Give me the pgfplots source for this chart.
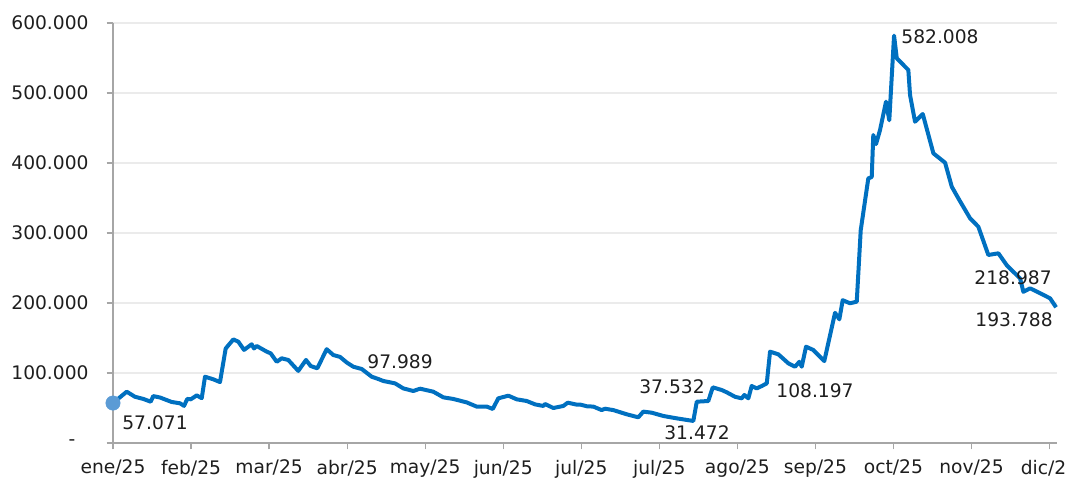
\documentclass[border=0pt]{standalone}
\usepackage{pgfplots}
\pgfplotsset{compat=1.18}
\usepackage{fontspec}
\setmainfont{DejaVu Sans}
\definecolor{lineblue}{RGB}{0,112,192}
\definecolor{dotblue}{RGB}{91,155,213}
\definecolor{axgray}{RGB}{166,166,166}
\definecolor{gridgray}{RGB}{235,235,235}
\definecolor{txt}{RGB}{30,30,30}
\begin{document}
\begin{tikzpicture}[font=\fontsize{14bp}{17bp}\selectfont]
\begin{axis}[
  scale only axis, width=708bp, height=315bp,
  xmin=0, xmax=12.096, ymin=0, ymax=600,
  axis x line=bottom, axis y line=left,
  axis line style={draw=axgray, line width=0.9bp, -},
  tick align=outside, major tick length=4.8bp,
  tick style={draw=axgray, line width=0.9bp},
  ymajorgrids, grid style={draw=gridgray, line width=0.8bp},
  ytick={0,100,200,300,400,500,600},
  yticklabels={{-\rule{10bp}{0pt}},100.000,200.000,300.000,400.000,500.000,600.000},
  xtick={0,1,2,3,4,5,6,7,8,9,10,11,12},
  xticklabels={ene/25,feb/25,mar/25,abr/25,may/25,jun/25,jul/25,jul/25,ago/25,sep/25,oct/25,nov/25,dic/25},
  ticklabel style={text=txt},
  yticklabel style={xshift=-10bp},
  xticklabel style={yshift=-4.5bp},
  clip=false,
]
\addplot[lineblue, line width=3bp, line join=round] coordinates {
(0.000,57.1)(0.176,73.3)(0.282,66)(0.388,63)(0.483,59)(0.516,67)(0.602,65)(0.752,58.6)(0.859,56.7)(0.910,53)
(0.952,63)(0.996,62.4)(1.073,68)(1.137,64)(1.179,94.7)(1.285,91)(1.371,87)(1.444,135)(1.542,148)(1.606,144.7)
(1.679,133)(1.777,141)(1.807,135)(1.841,138.6)(1.970,130.5)(2.021,128)(2.098,116)(2.162,121)(2.246,118.6)(2.374,103)
(2.473,118.6)(2.533,110)(2.618,106.7)(2.738,134)(2.823,125.7)(2.909,123)(2.995,115)(3.079,109)(3.187,105.7)(3.315,94.7)
(3.400,91.4)(3.464,88.6)(3.614,85.2)(3.720,78)(3.848,74.3)(3.934,77.6)(4.104,73.3)(4.233,65.2)(4.361,62.9)(4.532,58)
(4.660,52)(4.789,52)(4.866,48.6)(4.937,63.8)(5.066,67.6)(5.173,62.4)(5.301,60)(5.408,55.2)(5.514,52.9)(5.536,55.7)
(5.642,50)(5.770,52.9)(5.827,57.6)(5.942,54.8)(5.984,55)(6.070,52.5)(6.155,52)(6.262,47)(6.304,49)(6.411,47)
(6.583,41)(6.731,36.7)(6.795,44.8)(6.903,43.3)(7.052,38.6)(7.223,35.2)(7.436,31.5)(7.480,59)(7.628,60)(7.685,79.5)
(7.800,75.7)(7.864,72.4)(7.971,66)(8.056,63.8)(8.090,68.6)(8.141,63.8)(8.184,81.4)(8.248,78)(8.313,81.4)(8.377,85.2)
(8.419,130.5)(8.525,126.7)(8.654,113.8)(8.740,109)(8.794,116)(8.825,109)(8.880,137.6)(8.973,132.9)(9.114,117)(9.252,186)
(9.307,176.7)(9.350,204)(9.444,199.6)(9.530,201.9)(9.581,304)(9.678,378)(9.722,380)(9.742,440)(9.777,427)(9.828,447)
(9.905,487.6)(9.947,461)(10.008,582)(10.043,549.6)(10.191,532.9)(10.213,497)(10.277,459)(10.376,470)(10.512,413.8)(10.662,400.4)
(10.748,366)(10.845,347)(10.982,321)(11.088,309)(11.216,268.6)(11.345,271)(11.452,254)(11.623,235)(11.665,216)(11.751,221)
(11.879,214)(12.007,206.7)(12.084,193.8)
};
\addplot[only marks, mark=*, mark size=5.4bp, mark options={fill=dotblue, draw=dotblue}] coordinates {(0,57.071)};
\node[text=txt] at (axis cs:0.538,28.6) {57.071};
\node[text=txt] at (axis cs:3.678,115.7) {97.989};
\node[text=txt] at (axis cs:7.163,80) {37.532};
\node[text=txt] at (axis cs:7.483,14.3) {31.472};
\node[text=txt] at (axis cs:8.995,74.3) {108.197};
\node[text=txt] at (axis cs:10.597,580) {582.008};
\node[text=txt] at (axis cs:11.533,235.7) {218.987};
\node[text=txt] at (axis cs:11.546,175.7) {193.788};
\end{axis}
\pgfresetboundingbox
\path[use as bounding box] ([xshift=-84.75bp,yshift=-28.5bp]current axis.south west) rectangle ([xshift=7.5bp,yshift=17.25bp]current axis.north east);
\end{tikzpicture}
\end{document}
